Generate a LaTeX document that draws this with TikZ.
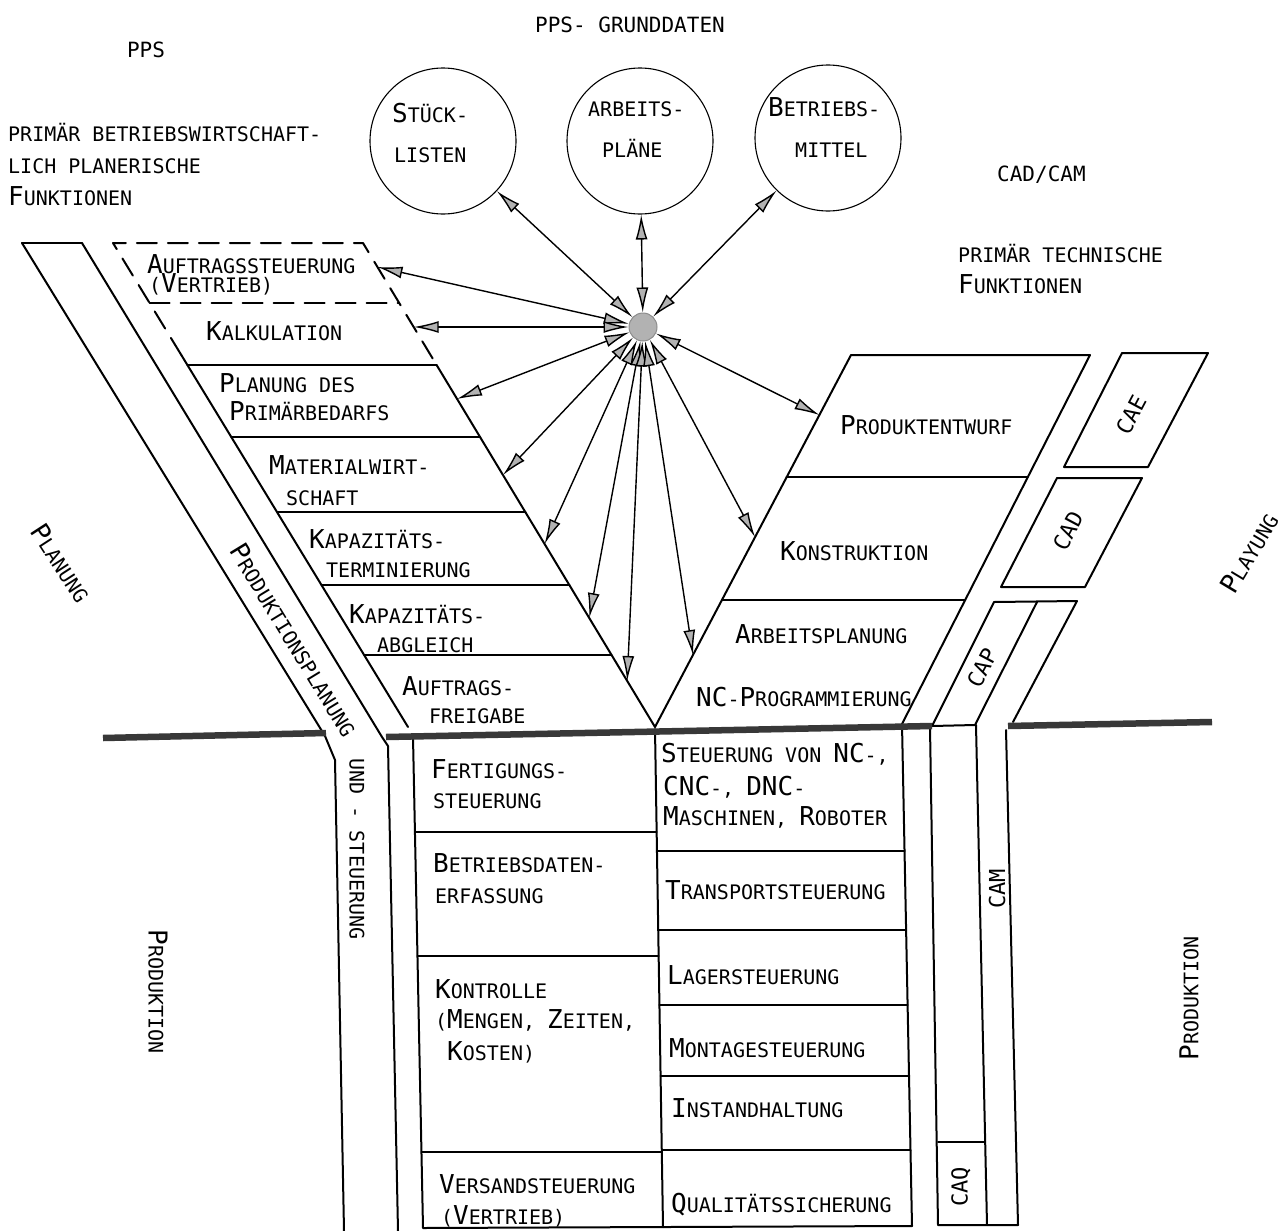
\documentclass[tikz,border=0pt]{standalone}
\usepackage{fontspec}
\newfontfamily\plotfont{DejaVu Sans Mono}
\usetikzlibrary{arrows.meta,calc}
% larger initial letter of a small-caps word
\newcommand\Ini[1]{{\fontsize{26}{26}\selectfont #1}}

\begin{document}
\begin{tikzpicture}[x=1pt,y=-1pt,
  txt/.style={font={\plotfont\fontsize{20}{24}\selectfont}, inner sep=0pt, anchor=base west},
  hdr/.style={font={\plotfont\fontsize{21}{24}\selectfont}, inner sep=0pt, anchor=base west},
  cal/.style={font={\plotfont\fontsize{22}{24}\selectfont}, inner sep=0pt, anchor=center},
  frame/.style={line width=2pt, line join=round, line cap=round},
  dashbox/.style={dash pattern=on 20pt off 11pt},
  bar/.style={line width=6.5pt, draw=black!78},
  circ/.style={draw, line width=1.1pt, circle, minimum size=146pt, inner sep=0pt},
  hubst/.style={circle, fill=gray!60, draw=gray!90, line width=1pt, minimum size=28pt, inner sep=0pt},
  link/.style={line width=1.4pt, >={Latex[length=25pt,width=12pt,fill=gray!60]}, <->}
]
\fill[white] (0,0) rectangle (1282,1231);
\useasboundingbox (0,0) rectangle (1282,1231);

% ---------- headings ----------
\node[hdr,anchor=base] (ppsT) at (146,58) {PPS};
\node[txt] (bwl1) at (8,141) {PRIMÄR BETRIEBSWIRTSCHAFT-};
\node[txt] (bwl2) at (8,173) {LICH PLANERISCHE};
\node[txt] (bwl3) at (8,205) {\Ini{F}UNKTIONEN};
\node[hdr,anchor=base] (gd) at (630,33) {PPS- GRUNDDATEN};
\node[hdr] (cadcam) at (997,181) {CAD/CAM};
\node[txt] (tech1) at (958,262) {PRIMÄR TECHNISCHE};
\node[txt] (tech2) at (958,293) {\Ini{F}UNKTIONEN};

% ---------- basic data stores ----------
\node[circ] (stl) at (443,141) {};
\node[circ] (apl) at (640,141) {};
\node[circ] (btm) at (828,138) {};
\node[txt] (stl1) at (392,122) {\Ini{S}TÜCK-};
\node[txt] (stl2) at (394,162) {LISTEN};
\node[txt] (apl1) at (588,116) {ARBEITS-};
\node[txt] (apl2) at (602,157) {PLÄNE};
\node[txt] (btm1) at (768,116) {\Ini{B}ETRIEBS-};
\node[txt] (btm2) at (795,157) {MITTEL};

% ---------- left arm (PPS) ----------
\draw[frame] (22,243) -- (82,243);
\draw[frame] (22,243) -- (325,736) -- (335,760) -- (344,1231);
\draw[frame] (82,243) -- (382,737) -- (388,746) -- (398,1231);

\draw[frame,dashbox] (181.3,355) -- (113,243) -- (363,243) -- (436.6,365);
\draw[frame,dashbox] (149.6,303) -- (399.2,303);
\draw[frame] (181.3,355) -- (408,727);
\draw[frame] (436.6,365) -- (655,727);
\draw[frame] (187.4,365) -- (436.6,365);
\draw[frame] (231.2,437) -- (480.0,437);
\draw[frame] (277.0,512) -- (525.3,512);
\draw[frame] (321.4,585) -- (569.3,585);
\draw[frame] (364.1,655) -- (611.6,655);

\node[txt] (auf1) at (147,273) {\Ini{A}UFTRAGSSTEUERUNG};
\node[txt] (auf2) at (149,292) {(\Ini{V}ERTRIEB)};
\node[txt] (kalk) at (206,340) {\Ini{K}ALKULATION};
\node[txt] (pri1) at (219,392) {\Ini{P}LANUNG DES};
\node[txt] (pri2) at (229,420) {\Ini{P}RIMÄRBEDARFS};
\node[txt] (mat1) at (269,474) {\Ini{M}ATERIALWIRT-};
\node[txt] (mat2) at (286,505) {SCHAFT};
\node[txt] (kt1) at (309,548) {\Ini{K}APAZITÄTS-};
\node[txt] (kt2) at (326,577) {TERMINIERUNG};
\node[txt] (ka1) at (349,623) {\Ini{K}APAZITÄTS-};
\node[txt] (ka2) at (377,652) {ABGLEICH};
\node[txt] (af1) at (402,695) {\Ini{A}UFTRAGS-};
\node[txt] (af2) at (429,723) {FREIGABE};

% ---------- right arm (CAD/CAM) ----------
\draw[frame] (655,727) -- (851,355) -- (1090,355) -- (902,724);
\draw[frame] (786.7,477) -- (1027.8,477);
\draw[frame] (721.9,600) -- (965.2,600);

\node[txt] (pe) at (840,434) {\Ini{P}RODUKTENTWURF};
\node[txt] (kon) at (780,560) {\Ini{K}ONSTRUKTION};
\node[txt] (ap) at (735,643) {\Ini{A}RBEITSPLANUNG};
\node[txt] (ncp) at (696,706) {\Ini{NC}-\Ini{P}ROGRAMMIERUNG};

% CA* column
\draw[frame] (1122,353) -- (1208,353) -- (1148,467) -- (1064,467) -- cycle;
\draw[frame] (1057,478) -- (1142,478) -- (1085,587) -- (1001,587) -- cycle;
\draw[frame] (932,726) -- (994,602) -- (1077,601) -- (1013,722);
\draw[frame] (1037,602) -- (975,725);
\draw[frame] (932,726) -- (975,725);
\draw[frame] (930,727) -- (938,1225) -- (1018,1225) -- (1006,730);
\draw[frame] (976,725) -- (987,1225);
\draw[frame] (938,1142) -- (985,1142);

\node[cal,rotate=62] (cae) at (1131,415) {CAE};
\node[cal,rotate=62] (cad) at (1068,531) {CAD};
\node[cal,rotate=62] (cap) at (982,668) {CAP};
\node[cal,rotate=90] (cam) at (997,889) {CAM};
\node[cal,rotate=90] (caq) at (961,1187) {CAQ};

% ---------- production area ----------
\draw[frame] (413,737) -- (423,1228) -- (912,1226) -- (902,724);
\draw[frame] (655,729) -- (663,1227);
\draw[frame] (415.0,832) -- (656.7,832);
\draw[frame] (417.5,956) -- (658.7,956);
\draw[frame] (421.5,1152) -- (661.9,1152);
\draw[frame] (656.9,851) -- (904.5,851);
\draw[frame] (658.2,930) -- (906.1,930);
\draw[frame] (659.4,1005) -- (907.6,1005);
\draw[frame] (660.6,1076) -- (909.0,1076);
\draw[frame] (661.8,1150) -- (910.5,1150);

\node[txt] (fs1) at (431,778) {\Ini{F}ERTIGUNGS-};
\node[txt] (fs2) at (433,808) {STEUERUNG};
\node[txt] (bde1) at (433,872) {\Ini{B}ETRIEBSDATEN-};
\node[txt] (bde2) at (435,903) {ERFASSUNG};
\node[txt] (ko1) at (435,998) {\Ini{K}ONTROLLE};
\node[txt] (ko2) at (435,1028) {(\Ini{M}ENGEN, \Ini{Z}EITEN,};
\node[txt] (ko3) at (447,1060) {\Ini{K}OSTEN)};
\node[txt] (vs1) at (439,1193) {\Ini{V}ERSANDSTEUERUNG};
\node[txt] (vs2) at (441,1224) {(\Ini{V}ERTRIEB)};
\node[txt] (nc1) at (661,762) {\Ini{S}TEUERUNG VON \Ini{NC}-,};
\node[txt] (nc2) at (663,795) {\Ini{CNC}-, \Ini{DNC}-};
\node[txt] (nc3) at (663,825) {\Ini{M}ASCHINEN, \Ini{R}OBOTER};
\node[txt] (ts) at (665,899) {\Ini{T}RANSPORTSTEUERUNG};
\node[txt] (ls) at (667,984) {\Ini{L}AGERSTEUERUNG};
\node[txt] (ms) at (669,1057) {\Ini{M}ONTAGESTEUERUNG};
\node[txt] (ih) at (671,1117) {\Ini{I}NSTANDHALTUNG};
\node[txt] (qs) at (671,1212) {\Ini{Q}UALITÄTSSICHERUNG};

% planning / production divide
\draw[bar] (103,738) -- (326,733);
\draw[bar] (386,737) -- (932,726);
\draw[bar] (1008,726) -- (1212,722);

% ---------- side labels ----------
\node[txt,anchor=center,rotate=-57] (planL) at (61,563) {\Ini{P}LANUNG};
\node[txt,anchor=center,rotate=-58.6] (ppl) at (294,640) {\Ini{P}RODUKTIONSPLANUNG};
\node[txt,anchor=center,rotate=-90] (undst) at (357,849) {UND - STEUERUNG};
\node[txt,anchor=center,rotate=-90] (prodL) at (158,992) {\Ini{P}RODUKTION};
\node[txt,anchor=center,rotate=90] (prodR) at (1189,998) {\Ini{P}RODUKTION};
\node[txt,anchor=center,rotate=59] (planR) at (1249,553) {\Ini{P}LAYUNG};

% ---------- data links ----------
\node[hubst] (hub) at (643,327) {};
\coordinate (t4) at (377.5,267);
\coordinate (t5) at (413.7,327);
\coordinate (t6) at (457,399);
\coordinate (t7) at (503,475);
\coordinate (t8) at (544.6,544);
\coordinate (t9) at (589.2,618);
\coordinate (t10) at (627.2,681);
\coordinate (t11) at (693,655);
\coordinate (t12) at (755,537);
\coordinate (t13) at (819.4,415);
\draw[link] (hub) -- (stl);
\draw[link] (hub) -- (apl);
\draw[link] (hub) -- (btm);
\foreach \t in {t4,t5,t6,t7,t8,t9,t10,t11,t12,t13}
  \draw[link] (hub) -- (\t);
\end{tikzpicture}
\end{document}
